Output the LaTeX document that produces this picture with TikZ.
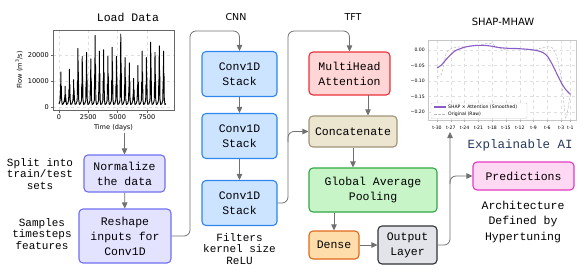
\documentclass[tikz,border=0pt]{standalone}
\usepackage{fontspec}
\setmainfont{Liberation Sans}
\setmonofont{Liberation Mono}
\newfontfamily\plotfont{DejaVu Sans}
\usetikzlibrary{arrows.meta}

\definecolor{prepfill}{HTML}{E3E3FF}  \definecolor{prepline}{HTML}{6F6FF0}
\definecolor{cnnfill}{HTML}{CCE4FF}   \definecolor{cnnline}{HTML}{2E86EE}
\definecolor{attnfill}{HTML}{FFD5D5}  \definecolor{attnline}{HTML}{E8323A}
\definecolor{catfill}{HTML}{ECE5CF}   \definecolor{catline}{HTML}{A09378}
\definecolor{poolfill}{HTML}{C8F5C8}  \definecolor{poolline}{HTML}{2FA845}
\definecolor{densefill}{HTML}{FFDDAA} \definecolor{denseline}{HTML}{E06A1B}
\definecolor{outfill}{HTML}{E2E4EA}   \definecolor{outdraw}{HTML}{2F3337}
\definecolor{predfill}{HTML}{FFD8F4}  \definecolor{predline}{HTML}{E23BC0}
\definecolor{conngray}{HTML}{707070}
\definecolor{xaiblue}{HTML}{26395A}
\definecolor{shappurple}{HTML}{8A5CC8}

\newcommand\boxtxt{\ttfamily\fontsize{11.5}{15}\selectfont}
\newcommand\notetxt{\ttfamily\fontsize{11}{11.7}\selectfont}

\begin{document}
\begin{tikzpicture}[
  x=1pt, y=-1pt,
  every node/.style = {inner sep=0pt, align=center},
  box/.style       = {rounded corners=4pt, line width=1.1pt, font=\boxtxt},
  prepbox/.style   = {box, draw=prepline, fill=prepfill},
  cnnbox/.style    = {box, draw=cnnline, fill=cnnfill, minimum width=75pt, minimum height=45pt},
  attnbox/.style   = {box, draw=attnline, fill=attnfill},
  catbox/.style    = {box, draw=catline, fill=catfill},
  poolbox/.style   = {box, draw=poolline, fill=poolfill},
  densebox/.style  = {box, draw=denseline, fill=densefill},
  outbox/.style    = {box, draw=outdraw, fill=outfill},
  predbox/.style   = {box, draw=predline, fill=predfill},
  note/.style      = {font=\notetxt},
  sectitle/.style  = {font=\plotfont\fontsize{9.5}{11}\selectfont},
  conn/.style      = {draw=conngray, line width=0.8pt, rounded corners=6pt,
                      -{Triangle[length=6pt, width=5.5pt]}},
  plottick/.style  = {font=\plotfont\fontsize{6.6}{7}\selectfont},
  shaptick/.style  = {font=\plotfont\fontsize{4.6}{5}\selectfont},
  plotgrid/.style  = {gray!25, line width=0.3pt, dashed},
]
\useasboundingbox (0,0) rectangle (585,277);

% ── Load data plot ──────────────────────────────────────────────────────────
\node[font=\ttfamily\fontsize{11.5}{13}\selectfont] (loadtitle) at (128,17) {Load Data};
\foreach \gx in {59,88.3,117.6,146.9} \draw[plotgrid] (\gx,30) -- (\gx,110);
\foreach \gy in {107,81,55} \draw[plotgrid] (53,\gy) -- (174,\gy);
\begin{scope}[shift={(59,107)}, x=4.28pt, y=2.6pt]
  \foreach \p [count=\i from 0] in {13.5,8,14.5,10.5,22.5,19.5,21,18.5,27.5,21.5,22,19.5,23,
                                    19.5,28,19,17,11,16,21.5,19,25,21,23.5,21.5} {
    \draw[black, line width=0.95pt, line join=round]
      (\i,1.2) -- ({\i+0.25},2.5) -- ({\i+0.32},{0.45*\p}) -- ({\i+0.37},{0.25*\p})
      -- ({\i+0.43},\p) -- ({\i+0.48},{0.3*\p}) -- ({\i+0.53},{0.6*\p})
      -- ({\i+0.6},3) -- ({\i+0.75},1) -- ({\i+1},1.2);
  }
\end{scope}
\draw[gray!80!black, line width=0.5pt] (53,30) rectangle (174,110);
\foreach \gx/\lab in {59/0, 88.3/2500, 117.6/5000, 146.9/7500} {
  \draw[gray!80!black, line width=0.5pt] (\gx,110) -- (\gx,112.5);
  \node[plottick] (lx\lab) at (\gx,117.5) {\lab};
}
\foreach \gy/\lab in {107/0, 81/10000, 55/20000} {
  \draw[gray!80!black, line width=0.5pt] (53,\gy) -- (50.5,\gy);
  \node[plottick, anchor=east] (ly\lab) at (49,\gy) {\lab};
}
\node[plottick] (timelab) at (113.5,127.5) {Time (days)};
\node[plottick, rotate=90] (flowlab) at (19,70) {Flow (m\textsuperscript{3}/s)};
\coordinate (plotbot) at (124.5,133);

% ── Preprocessing ───────────────────────────────────────────────────────────
\node[prepbox, minimum width=81pt, minimum height=37pt] (norm) at (124.5,173.5) {Normalize\\the data};
\node[prepbox, minimum width=92pt, minimum height=54pt] (reshape) at (125,236) {Reshape\\inputs for\\Conv1D};
\node[note] (splitnote) at (40,174) {Split into\\train/test\\sets};
\node[note] (samplenote) at (42,234) {Samples\\timesteps\\features};

% ── CNN ─────────────────────────────────────────────────────────────────────
\node[sectitle] (cnntitle) at (236,17) {CNN};
\node[cnnbox] (c1) at (239.5,74)  {Conv1D\\Stack};
\node[cnnbox] (c2) at (239.5,136) {Conv1D\\Stack};
\node[cnnbox] (c3) at (239.5,203) {Conv1D\\Stack};
\node[note] (filternote) at (239.5,249) {Filters\\kernel size\\ReLU};
\coordinate (cnnturn) at (190,31);

% ── TFT ─────────────────────────────────────────────────────────────────────
\node[sectitle] (tfttitle) at (353,17) {TFT};
\node[attnbox, minimum width=81pt, minimum height=43pt] (mha) at (349.5,73.5) {MultiHead\\Attention};
\node[catbox, minimum width=88pt, minimum height=31pt] (cat) at (353,131.5) {Concatenate};
\node[poolbox, minimum width=128pt, minimum height=44pt] (pool) at (373,190) {Global Average\\Pooling};
\node[densebox, minimum width=50pt, minimum height=28pt] (dense) at (334,245) {Dense};
\node[outbox, minimum width=59pt, minimum height=38pt] (out) at (407.5,245) {Output\\Layer};
\coordinate (tftturn) at (288,31);
\coordinate (catfork) at (288,142);
\coordinate (attnout) at (368,95);

% ── SHAP-MHAW plot ──────────────────────────────────────────────────────────
\node[font=\plotfont\fontsize{10}{12}\selectfont] (shaptitle) at (503,22) {SHAP-MHAW};
\foreach \u in {0,3,...,27,29} \draw[plotgrid] ({437+4.6*\u},40) -- ({437+4.6*\u},120);
\foreach \v in {0,0.05,0.1,0.15,0.2} \draw[plotgrid] (428,{50+310*\v}) -- (576,{50+310*\v});
\begin{scope}[shift={(437,50)}, x=4.6pt, y=310pt]
  \draw[gray!55, line width=0.5pt, dash pattern=on 2.5pt off 1.5pt] plot[smooth, tension=0.3] coordinates {
    (0,-0.085) (1,-0.078) (2,-0.01) (3,0.004) (4,0.008) (5,0.01) (6,0.01) (7,0.012)
    (8,0.015) (9,0.015) (10,0.018) (11,0.022) (12,0.02) (13,0.01) (14,0.003) (15,0.002)
    (16,0.005) (17,0.004) (18,0.004) (19,0.003) (20,0.002) (21,0.0) (22,0.003) (23,0.008)
    (24,0.01) (25,0.008) (26,-0.02) (27,-0.09) (28,-0.22) (29,-0.14)};
  \draw[shappurple, line width=1.1pt] plot[smooth] coordinates {
    (0,-0.058) (1,-0.048) (2,-0.03) (3,-0.015) (4,-0.002) (5,0.004) (6,0.009) (7,0.012)
    (8,0.014) (9,0.015) (10,0.015) (11,0.014) (12,0.012) (13,0.009) (14,0.007) (15,0.006)
    (16,0.005) (17,0.005) (18,0.004) (19,0.003) (20,0.002) (21,0.0) (22,-0.003) (23,-0.008)
    (24,-0.02) (25,-0.045) (26,-0.075) (27,-0.105) (28,-0.128) (29,-0.143)};
\end{scope}
\draw[gray!45, line width=0.5pt] (428,40) rectangle (576,120);
\foreach \k/\u in {30/0,27/3,24/6,21/9,18/12,15/15,12/18,9/21,6/24,3/27,1/29} {
  \draw[gray!60, line width=0.3pt] ({437+4.6*\u},120) -- ({437+4.6*\u},121.5);
  \node[shaptick] (st\k) at ({437+4.6*\u},127.5) {t-\k};
}
\foreach \v/\lab [count=\n] in {0/0.00, 0.05/−0.05, 0.1/−0.10, 0.15/−0.15, 0.2/−0.20} {
  \node[shaptick, anchor=east] (sv\n) at (425,{50+310*\v}) {\lab};
}
% legend
\draw[fill=white, draw=gray!40, line width=0.4pt, rounded corners=1pt] (431,103) rectangle (527,118.5);
\draw[shappurple, line width=1.1pt] (434,107) -- (446,107);
\node[shaptick, anchor=west] (legshap) at (448,107) {SHAP × Attention (Smoothed)};
\draw[gray!55, line width=0.5pt, dash pattern=on 2.5pt off 1.5pt] (434,114.5) -- (446,114.5);
\node[shaptick, anchor=west] (legraw) at (448,114.5) {Original (Raw)};
\coordinate (shapbot) at (450,132);
\coordinate (predfork) at (450,184);

% ── Output side ─────────────────────────────────────────────────────────────
\node[font=\ttfamily\fontsize{12.5}{14}\selectfont, text=xaiblue] (xai) at (520,145) {Explainable AI};
\node[predbox, minimum width=101pt, minimum height=28pt] (pred) at (523.5,176) {Predictions};
\node[font=\ttfamily\fontsize{11.5}{15.3}\selectfont] (archnote) at (523,222) {Architecture\\Defined by\\Hypertuning};

% ── Connectors ──────────────────────────────────────────────────────────────
\draw[conn] (plotbot) -- (norm.north);
\draw[conn] (norm) -- (reshape);
\draw[conn] (reshape.east) -| (cnnturn) -| (c1.north);
\draw[conn] (c1) -- (c2);
\draw[conn] (c2) -- (c3);
\draw[conn] (c3.east) -| (tftturn) -| (mha.north);
\draw[conn] (catfork) |- (cat.west);
\draw[conn] (attnout) -- (attnout |- cat.north);
\draw[conn] (cat.south) -- (cat.south |- pool.north);
\draw[conn] (pool.south -| dense.north) -- (dense.north);
\draw[conn] (dense) -- (out);
\draw[conn] (out.east) -| (shapbot);
\draw[conn] (predfork) |- (pred.west);

\end{tikzpicture}
\end{document}
